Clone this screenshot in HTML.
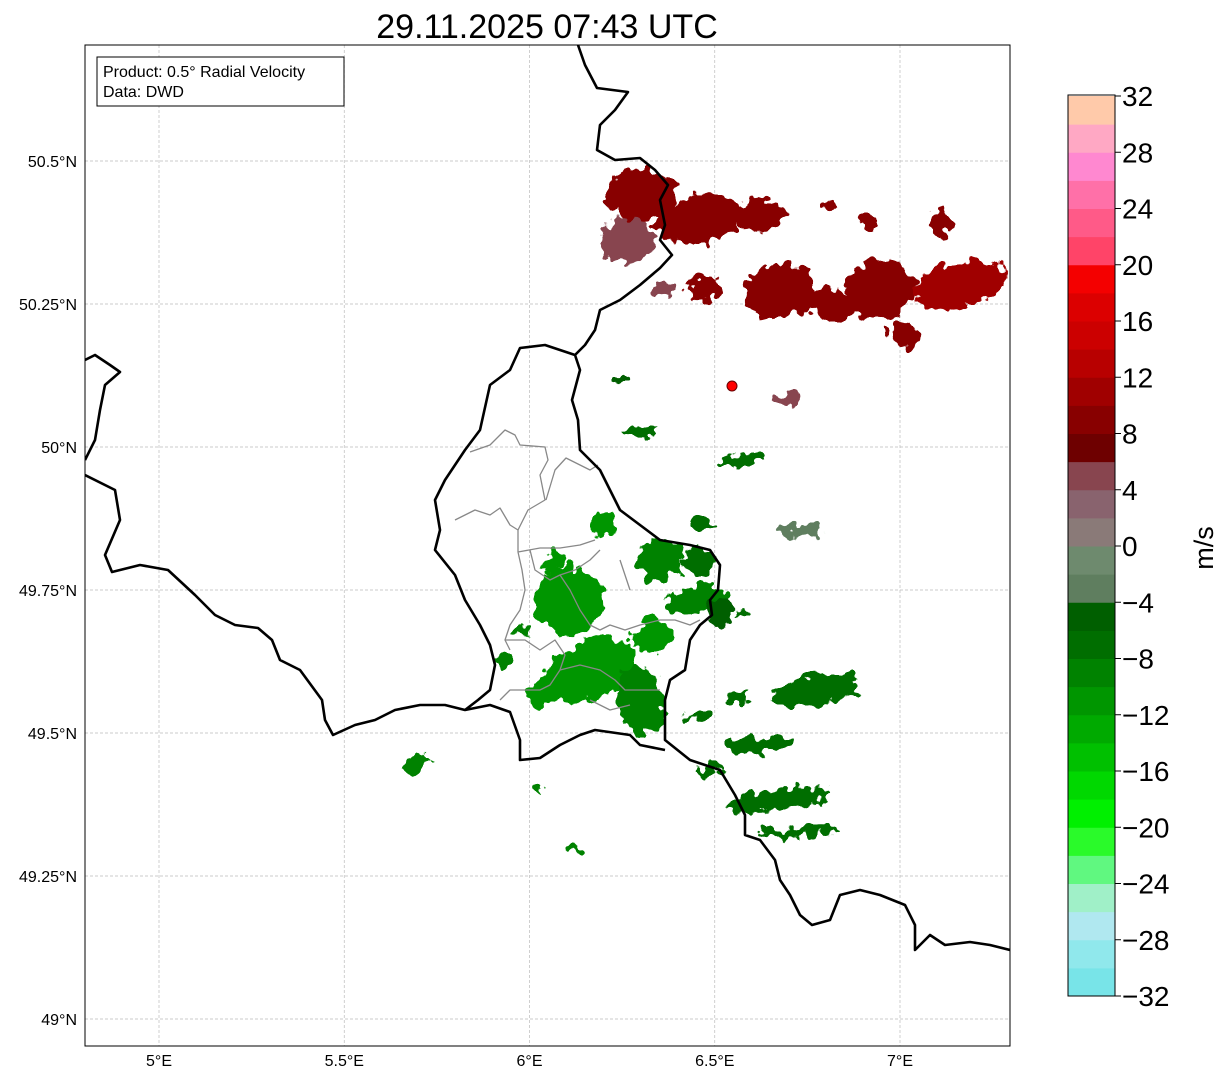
<!DOCTYPE html>
<html><head><meta charset="utf-8"><style>
body{margin:0;background:#fff;font-family:"Liberation Sans",sans-serif}
svg text{font-family:"Liberation Sans","DejaVu Sans",sans-serif}
</style></head><body>
<svg id="s" width="1225" height="1081" viewBox="0 0 1225 1081" xmlns="http://www.w3.org/2000/svg">
<defs>
<clipPath id="mapclip"><rect x="85" y="45" width="925" height="1001"/></clipPath>
<filter id="rough" x="-30%" y="-30%" width="160%" height="160%">
<feTurbulence type="fractalNoise" baseFrequency="0.09" numOctaves="2" seed="3"/>
<feDisplacementMap in="SourceGraphic" scale="22" xChannelSelector="R" yChannelSelector="G"/>
</filter>
</defs>
<text x="547" y="38" font-size="34" text-anchor="middle">29.11.2025 07:43 UTC</text>
<g id="grid"></g>
<g id="echoes" clip-path="url(#mapclip)" filter="url(#rough)"></g>
<g id="borders" clip-path="url(#mapclip)" fill="none" stroke-linejoin="round">
<path stroke="#888" stroke-width="1.3" d="M470,452 L490,445 505,430 515,435 520,445 545,447 548,460 540,475 545,500 528,510 518,530 518,552 540,548 560,548 580,545 595,540 M455,520 L475,510 490,515 500,508 510,525 518,530 M546,500 L555,470 566,458 580,465 590,470 598,465 M518,552 L522,570 525,590 520,610 510,625 505,640 510,650 M530,550 L535,570 550,580 560,575 575,570 590,560 600,550 M560,575 L570,590 580,610 590,625 600,630 610,625 625,630 640,625 660,620 675,620 690,625 700,620 M505,640 L525,640 540,650 555,640 565,655 560,670 550,685 540,690 M560,670 L580,665 600,670 615,680 625,690 640,690 660,690 M500,700 L510,690 530,690 540,690 M590,700 L610,710 630,705 M620,560 L625,575 630,590"/>
<path stroke="#000" stroke-width="2.6" d="M578,45 L585,65 597,88 628,92 615,110 600,125 597,150 615,160 640,158 655,170 668,185 660,200 665,225 660,240 672,255 660,268 640,285 620,300 600,310 595,330 585,345 575,355 580,370 572,400 578,420 580,450 590,460 600,470 610,490 620,510 640,525 660,540 690,545 710,550 720,565 718,590 710,600 712,615 700,625 690,640 685,670 670,680 665,700 665,740 690,760 720,770 735,795 745,815 745,835 760,840 775,860 780,880 790,895 800,915 812,925 830,920 840,895 860,890 880,895 905,905 915,925 915,950 930,935 945,945 970,942 990,945 1010,950 M575,355 L560,350 545,345 520,348 510,370 490,385 480,430 465,450 445,480 435,500 440,530 435,550 455,575 465,600 480,625 490,645 495,665 490,690 478,700 465,710 490,705 510,712 520,740 520,760 540,758 560,745 580,735 595,730 630,735 640,745 665,750 M465,710 L445,705 420,705 395,710 375,720 355,725 333,735 325,720 322,700 300,670 280,660 272,640 258,628 235,625 215,615 195,595 168,570 140,565 112,572 105,555 120,520 115,490 85,475 M85,360 L95,355 110,365 120,372 105,385 100,410 95,440 85,460"/>
</g>
<rect x="85" y="45" width="925" height="1001" fill="none" stroke="#000" stroke-width="1"/>
<circle cx="732" cy="386" r="5" fill="#f00" stroke="#600" stroke-width="1"/>
<g>
<rect x="97" y="57" width="247" height="49" fill="#fff" stroke="#000" stroke-width="1"/>
<text x="103" y="77" font-size="16">Product: 0.5° Radial Velocity</text>
<text x="103" y="97" font-size="16">Data: DWD</text>
</g>
<g id="axes"></g>
<g id="cbar"></g>
<text x="1213" y="548" font-size="27" text-anchor="middle" transform="rotate(-90 1213 548)">m/s</text>
</svg>
<script>
// ---- data ----
const lonTicks=[5,5.5,6,6.5,7];
const lonLabels=["5°E","5.5°E","6°E","6.5°E","7°E"];
const latTicks=[49,49.25,49.5,49.75,50,50.25,50.5];
const latLabels=["49°N","49.25°N","49.5°N","49.75°N","50°N","50.25°N","50.5°N"];
const cbarTicks=[-32,-28,-24,-20,-16,-12,-8,-4,0,4,8,12,16,20,24,28,32];
const cbarLabels=["\u221232","\u221228","\u221224","\u221220","\u221216","\u221212","\u22128","\u22124","0","4","8","12","16","20","24","28","32"];
const binColors=["#78e4e8","#90e8ec","#b0e8f0","#a0f0c8","#60f880","#2afa2a","#00f000","#00d800","#00c000","#00aa00","#009600","#008200","#006e00","#005f00","#5f7e5f","#6e8a6e","#8a7a78","#89636e","#88454f","#6e0000","#880000","#a00000","#b80000","#cc0000","#dc0000","#f40000","#ff4468","#ff5a88","#ff70a8","#ff88d0","#ffa8c4","#ffcaaa"];
// echo clusters: centre lon/lat, half-extent in degrees, rotation, velocity (m/s)
const echoLon=[6.298,6.460,6.622,6.266,6.474,6.676,6.811,6.946,7.162,7.013,7.108,6.914,6.811,6.690,6.360,6.730,6.109,6.163,6.055,6.298,6.352,6.460,6.447,6.514,6.204,6.622,6.676,6.730,6.771,6.568,6.298,5.691,5.974,6.487,6.460,6.123,6.023,6.244,6.58,6.56,5.93,6.46,6.06,6.33];
const echoLat=[50.44,50.397,50.406,50.362,50.278,50.274,50.248,50.274,50.283,50.196,50.393,50.393,50.423,50.082,50.274,49.855,49.732,49.61,49.575,49.558,49.802,49.802,49.733,49.712,49.864,49.479,49.383,49.327,49.575,49.977,50.026,49.444,49.68,49.437,49.864,49.299,49.404,50.117,49.71,49.56,49.63,49.53,49.80,49.67];
const echoRx=[0.094,0.12,0.067,0.074,0.047,0.094,0.067,0.094,0.128,0.047,0.034,0.024,0.014,0.04,0.027,0.054,0.094,0.135,0.067,0.067,0.067,0.04,0.081,0.04,0.034,0.094,0.148,0.108,0.121,0.067,0.047,0.04,0.027,0.04,0.027,0.02,0.016,0.014,0.02,0.03,0.03,0.04,0.04,0.05];
const echoRy=[0.047,0.04,0.03,0.039,0.022,0.048,0.026,0.052,0.039,0.022,0.022,0.01,0.01,0.013,0.013,0.013,0.061,0.052,0.026,0.061,0.035,0.026,0.022,0.026,0.022,0.013,0.017,0.009,0.026,0.01,0.007,0.013,0.009,0.01,0.01,0.005,0.004,0.01,0.006,0.008,0.01,0.01,0.015,0.03];
const echoRot=[0,-10,0,0,0,-10,20,-15,-10,20,30,0,0,0,0,0,-35,-20,-30,-15,-10,0,-10,0,-30,-5,-8,-5,-10,-10,0,-30,-30,-10,0,0,0,-40,0,-10,-30,-10,-30,-20];
const echoVel=[9,9.5,9.5,5,9.5,9.5,9.5,9.5,10,9.5,9.5,9.5,9.5,4,5,-3,-12,-11,-11,-10,-9,-7,-9,-6,-12,-8,-8,-8,-8,-8,-7,-9,-10,-8,-7,-9,-9,-5,-8,-8,-10,-8,-12,-11];
// ---- scales ----
const NS="http://www.w3.org/2000/svg";
function xLon(l){return 159+(l-5)*370.5;}
function yLat(l){return 161+(50.5-l)*572;}
function yC(v){return 996-(v+32)*900/64;}
function colorOf(v){let i=Math.floor((v+32)/2);i=Math.max(0,Math.min(31,i));return binColors[i];}
function mk(tag,attrs,parent){const e=document.createElementNS(NS,tag);for(const k in attrs)e.setAttribute(k,attrs[k]);parent.appendChild(e);return e;}
const grid=document.getElementById('grid'),axes=document.getElementById('axes'),ech=document.getElementById('echoes'),cb=document.getElementById('cbar');
lonTicks.forEach((t,i)=>{const x=xLon(t);
 const g=mk('line',{x1:x,x2:x,y1:45,y2:1046,stroke:'#bbb','stroke-width':0.7,'stroke-dasharray':'3,2'},grid);
 
 
 const tx=mk('text',{x:x,y:1066,'font-size':16,'text-anchor':'middle'},axes);tx.textContent=lonLabels[i];
 
 });
latTicks.forEach((t,i)=>{const y=yLat(t);
 const g=mk('line',{x1:85,x2:1010,y1:y,y2:y,stroke:'#bbb','stroke-width':0.7,'stroke-dasharray':'3,2'},grid);
 
 
 const tx=mk('text',{x:77,y:y+6,'font-size':16,'text-anchor':'end'},axes);tx.textContent=latLabels[i];
 
 });
for(let i=0;i<echoLon.length;i++){
 const cx=xLon(echoLon[i]),cy=yLat(echoLat[i]);
 const e=mk('ellipse',{cx:cx,cy:cy,rx:echoRx[i]*370.5,ry:echoRy[i]*572,fill:colorOf(echoVel[i]),transform:`rotate(${echoRot[i]} ${cx} ${cy})`},ech);
 
 
}
for(let i=0;i<32;i++){const v=-32+i*2;
 const r=mk('rect',{x:1068,y:yC(v+2),width:47,height:900/32+0.5,fill:binColors[i]},cb);
 
 }
mk('rect',{x:1068,y:95,width:47,height:901,fill:'none',stroke:'#000','stroke-width':1},cb);
cbarTicks.forEach((t,i)=>{const y=yC(t);
 mk('line',{x1:1115,x2:1121,y1:y,y2:y,stroke:'#000','stroke-width':1},cb);
 const tx=mk('text',{x:1122,y:y+10,'font-size':28},cb);tx.textContent=cbarLabels[i];
 
 });
</script>
</body></html>
